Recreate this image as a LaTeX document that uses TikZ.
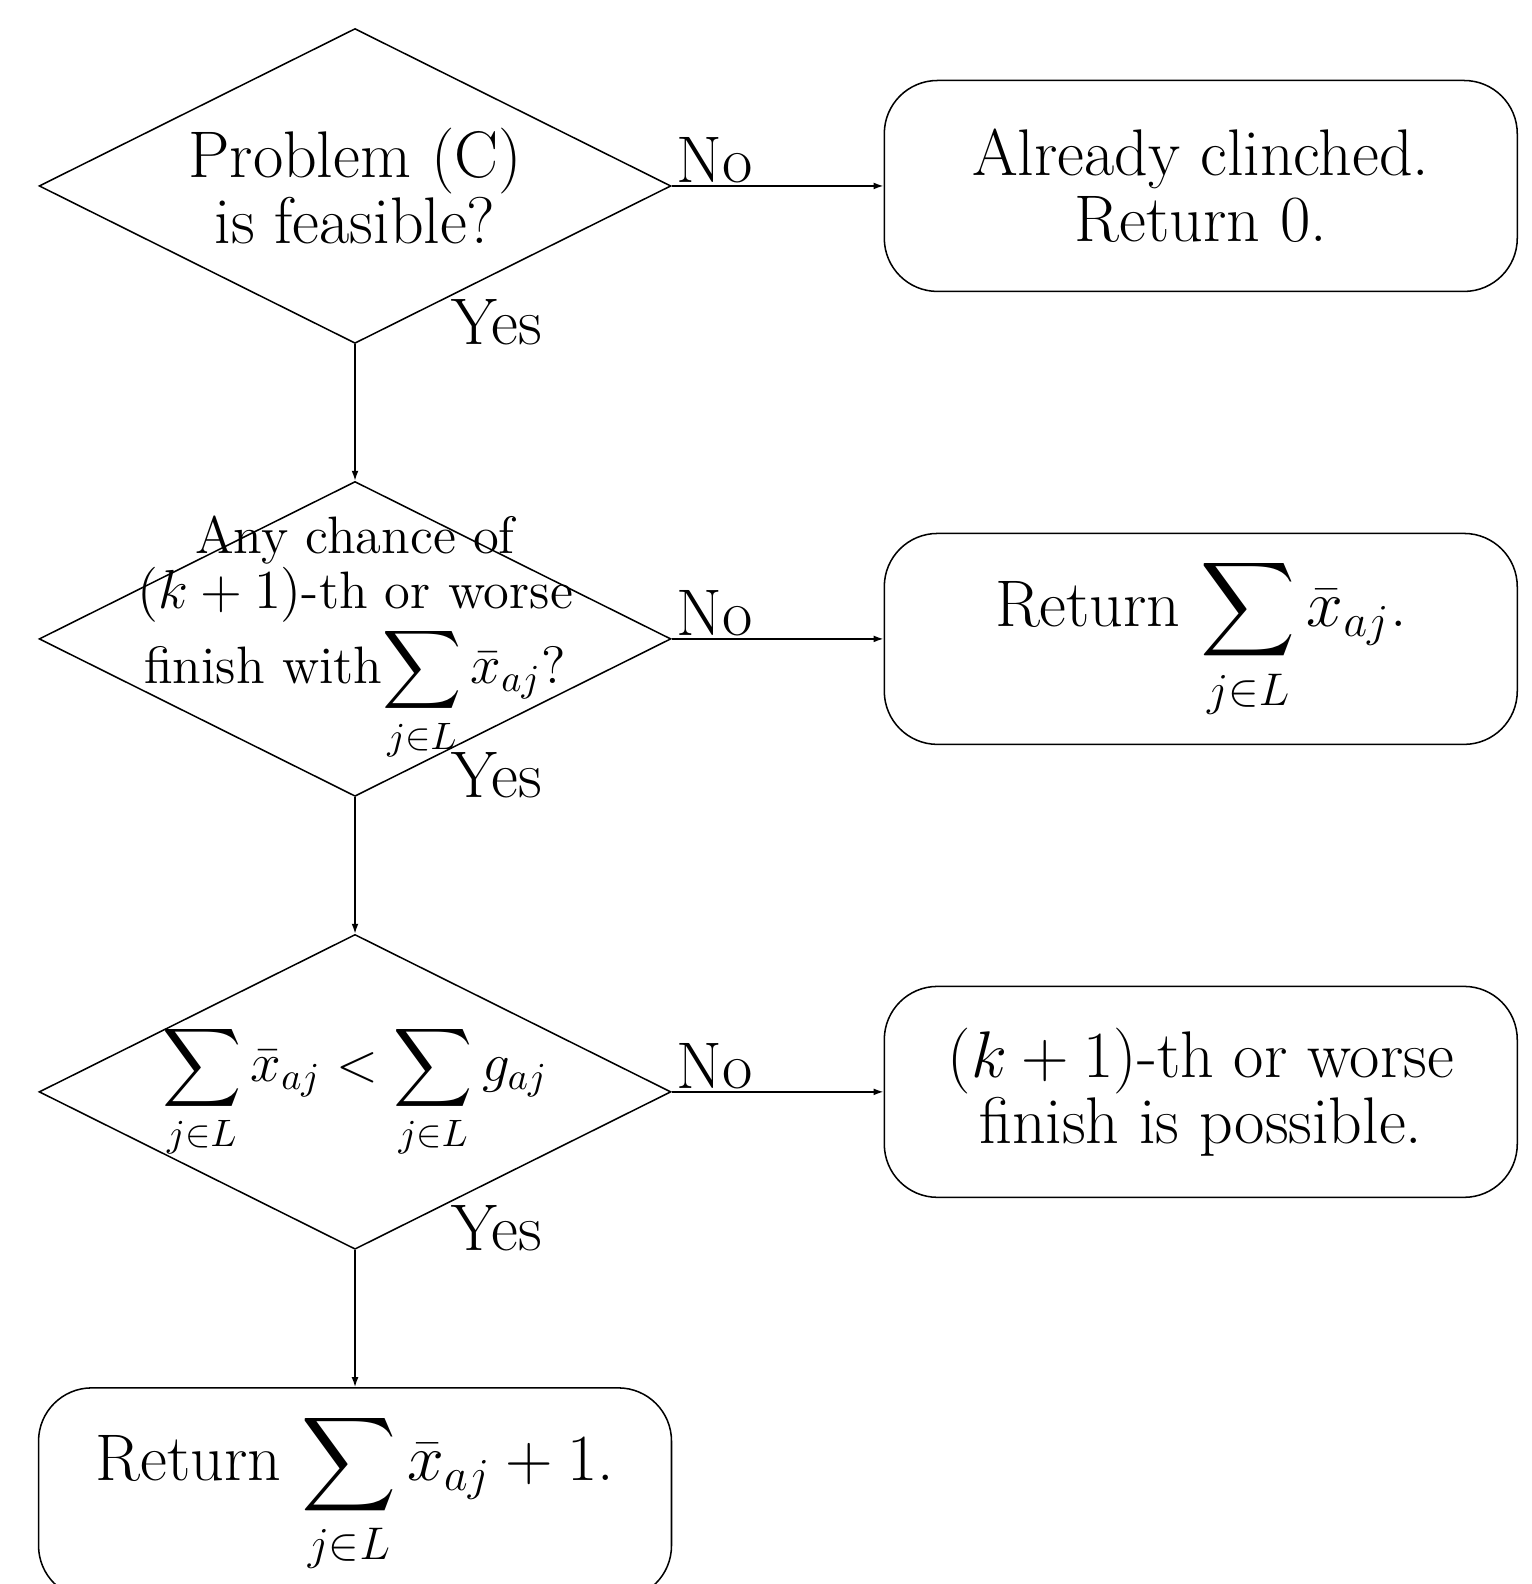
\documentclass[tikz,border=0pt]{standalone}
\usepackage{amsmath}
\usetikzlibrary{shapes.geometric,arrows.meta}

\begin{document}
\begin{tikzpicture}[every node/.style={font=\fontsize{17.28}{17.28}\selectfont},
    test/.style={diamond,draw,minimum width=5.82cm,minimum height=2.9cm,inner sep=0pt},
    outcome/.style={draw,rounded corners=0.49cm,minimum width=5.83cm,minimum height=1.943cm,align=center,inner sep=0pt},
    txt/.style={align=center,inner sep=0pt},
    small/.style={font=\fontsize{14.4}{14.4}\selectfont},
    smaller/.style={font=\fontsize{13.8}{14.4}\selectfont},
    tag/.style={anchor=base west,inner sep=0pt},
    flow/.style={-{Latex[length=2.6pt,width=1.8pt]}}]
  \useasboundingbox (0,0) rectangle (14.11,-14.59);

  % the three questions
  \node[test] (feas) at (3.27,-1.713) {};
  \node[test] (chance) at (3.27,-5.885) {};
  \node[test] (comp) at (3.27,-10.057) {};
  \node[txt] (feastxt) at (feas) {Problem (C)\\is feasible?};
  \node[txt,smaller] (chancetxt) at (chance) {Any chance of\\$(k+1)$-th or worse\\finish with$\displaystyle\sum_{j\in L}\bar{x}_{aj}$?};
  \node[txt,small] (comptxt) at (comp) {$\displaystyle\sum_{j\in L}\bar{x}_{aj}<\sum_{j\in L}g_{aj}$};

  % the outcomes
  \node[outcome] (clinched) at (11.06,-1.713) {Already clinched.\\Return 0.};
  \node[outcome] (retsum) at (11.06,-5.885) {Return $\displaystyle\sum_{j\in L}\bar{x}_{aj}$.};
  \node[outcome] (possible) at (11.06,-10.057) {$(k+1)$-th or worse\\finish is possible.};
  \node[outcome] (retplus) at (3.27,-13.755) {Return $\displaystyle\sum_{j\in L}\bar{x}_{aj}+1$.};

  % connectors
  \draw[flow] (feas.east) -- (clinched.west);
  \draw[flow] (chance.east) -- (retsum.west);
  \draw[flow] (comp.east) -- (possible.west);
  \draw[flow] (feas.south) -- (chance.north);
  \draw[flow] (chance.south) -- (comp.north);
  \draw[flow] (comp.south) -- (retplus.north);

  \node[tag] (no1) at ([shift={(0.04,0.03)}]feas.east) {No};
  \node[tag] (no2) at ([shift={(0.04,0.03)}]chance.east) {No};
  \node[tag] (no3) at ([shift={(0.04,0.03)}]comp.east) {No};
  \node[tag] (yes1) at ([xshift=0.88cm]feas.south) {Yes};
  \node[tag] (yes2) at ([xshift=0.88cm]chance.south) {Yes};
  \node[tag] (yes3) at ([xshift=0.88cm]comp.south) {Yes};
\end{tikzpicture}
\end{document}
